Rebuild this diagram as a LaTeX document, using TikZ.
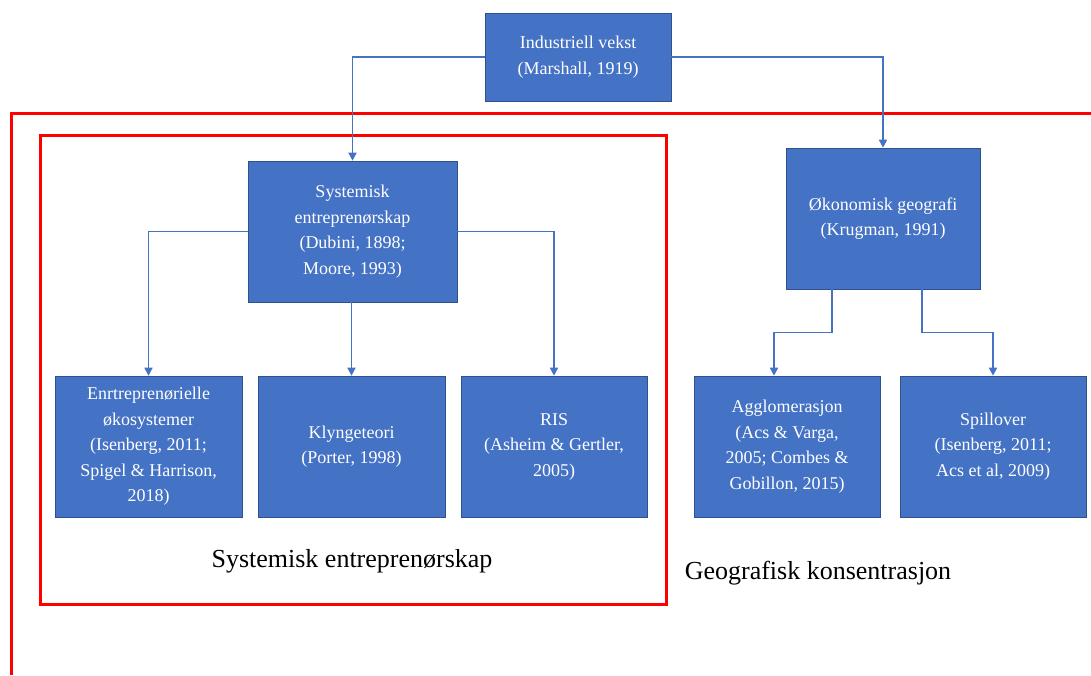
\documentclass[tikz,border=0pt]{standalone}
\usepackage{fontspec}
\setmainfont{Liberation Serif}
\usetikzlibrary{arrows.meta}
\definecolor{boxblue}{HTML}{4472C4}
\definecolor{boxedge}{HTML}{2F528F}
\definecolor{framered}{HTML}{FF0000}

\begin{document}
\begin{tikzpicture}[x=1pt,y=-1pt,
  box/.style={rectangle,fill=boxblue,draw=boxedge,line width=0.6pt,text=white,
    align=center,inner sep=0pt,font=\fontsize{18}{25.5}\selectfont},
  link/.style={draw=boxblue,line width=1.6pt,-{Triangle[length=8pt,width=8pt]}},
  redframe/.style={draw=framered,line width=3pt},
  grouplabel/.style={font=\fontsize{26}{30}\selectfont}]
\useasboundingbox (0,0) rectangle (1091,675);

% red frames
\draw[redframe] (11,675) -- (11,113) -- (1091,113);
\draw[redframe] (40,135) rectangle (666,604);

\begin{scope}[every node/.style={box}]
    \node[minimum width=186pt,minimum height=88pt] (vekst) at (578,57) {Industriell vekst\\(Marshall, 1919)};
    \node[minimum width=209pt,minimum height=141pt] (sys) at (352.5,231.5) {Systemisk\\entreprenørskap\\(Dubini, 1898;\\Moore, 1993)};
    \node[minimum width=194pt,minimum height=141pt] (oko) at (883,218.5) {Økonomisk geografi\\(Krugman, 1991)};
    \node[minimum width=187pt,minimum height=141pt] (eco) at (148.5,446.5) {Enrtreprenørielle\\økosystemer\\(Isenberg, 2011;\\Spigel \& Harrison,\\2018)};
    \node[minimum width=187pt,minimum height=141pt] (klynge) at (351.5,446.5) {Klyngeteori\\(Porter, 1998)};
    \node[minimum width=186pt,minimum height=141pt] (ris) at (554,446.5) {RIS\\(Asheim \& Gertler,\\2005)};
    \node[minimum width=186pt,minimum height=141pt] (agg) at (787,446.5) {Agglomerasjon\\(Acs \& Varga,\\2005; Combes \&\\Gobillon, 2015)};
    \node[minimum width=186pt,minimum height=141pt] (spill) at (993,446.5) {Spillover\\(Isenberg, 2011;\\Acs et al, 2009)};
\end{scope}

\node[grouplabel] (lblsys) at (352,561) {Systemisk entreprenørskap};
\node[grouplabel] (lblgeo) at (818,573) {Geografisk konsentrasjon};

\draw[link] (vekst.west) -| (sys.north);
\draw[link] (vekst.east) -| (oko.north);
\draw[link] (sys.west) -| (eco.north);
\draw[link] (sys.south -| klynge.north) -- (klynge.north);
\draw[link] (sys.east) -| (ris.north);
\draw[link] ([xshift=-51pt]oko.south) -- ++(0,43) -| ([xshift=-13pt]agg.north);
\draw[link] ([xshift=39pt]oko.south) -- ++(0,43) -| (spill.north);
\end{tikzpicture}
\end{document}
